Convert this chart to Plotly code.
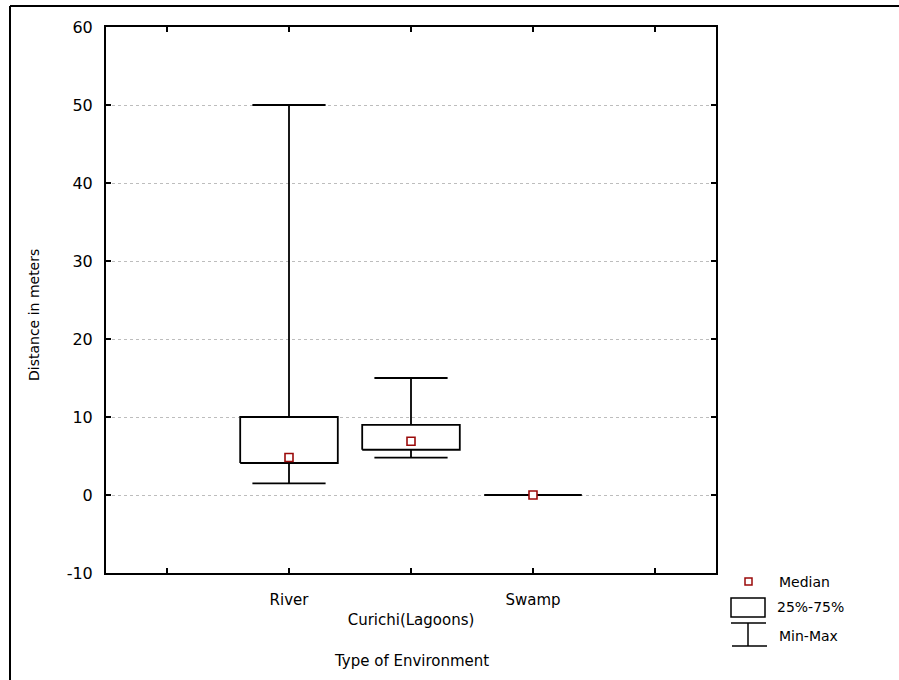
import plotly.graph_objects as go

# ---- data ----
categories = ["", "River", "Curichi(Lagoons)", "Swamp", ""]
tick_labels = ["", "River", "<br>Curichi(Lagoons)", "Swamp", ""]
box_cats = ["River", "Curichi(Lagoons)", "Swamp"]
mins = [1.5, 4.8, 0.0]
q1s = [4.1, 5.8, 0.0]
medians = [4.8, 6.9, 0.0]
q3s = [10.0, 9.0, 0.0]
maxs = [50.0, 15.0, 0.0]
y_ticks = [-10, 0, 10, 20, 30, 40, 50, 60]
y_tick_labels = ["-10", "0", "10", "20", "30", "40", "50", "60"]

BOX_HALF = 0.4
CAP_HALF = 0.3
FONT = "DejaVu Sans"

fig = go.Figure()

xs, ys = [], []
for cat, mn, a, md, b, mx in zip(box_cats, mins, q1s, medians, q3s, maxs):
    c = categories.index(cat)
    xs += [c - BOX_HALF, c + BOX_HALF, c + BOX_HALF, c - BOX_HALF, c - BOX_HALF, None]
    ys += [a, a, b, b, a, None]
    if mx > b:
        xs += [c, c, None, c - CAP_HALF, c + CAP_HALF, None]
        ys += [b, mx, None, mx, mx, None]
    if mn < a:
        xs += [c, c, None, c - CAP_HALF, c + CAP_HALF, None]
        ys += [a, mn, None, mn, mn, None]

fig.add_trace(go.Scatter(x=xs, y=ys, mode="lines",
                         line=dict(color="black", width=1.8),
                         hoverinfo="skip", showlegend=False))

fig.add_trace(go.Scatter(x=[categories.index(c) for c in box_cats], y=medians,
                         mode="markers",
                         marker=dict(symbol="square", size=8, color="white",
                                     line=dict(color="#9b0a0a", width=1.6)),
                         showlegend=False))

PL, PR, PT, PB = 106, 716, 27, 573
W, H = 899, 680
def px(x):
    return (x - PL) / (PR - PL)
def py(y):
    return (PB - y) / (PB - PT)

shapes = [
    dict(type="line", xref="paper", yref="paper", x0=px(10), x1=px(905), y0=py(6), y1=py(6),
         line=dict(color="black", width=2)),
    dict(type="line", xref="paper", yref="paper", x0=px(10), x1=px(10), y0=py(6), y1=py(690),
         line=dict(color="black", width=2)),
    dict(type="rect", xref="paper", yref="paper", x0=px(745), x1=px(752), y0=py(585), y1=py(578),
         line=dict(color="#9b0a0a", width=1.5), fillcolor="white"),
    dict(type="rect", xref="paper", yref="paper", x0=px(731), x1=px(765), y0=py(617), y1=py(598),
         line=dict(color="black", width=1.5), fillcolor="white"),
    dict(type="line", xref="paper", yref="paper", x0=px(731), x1=px(766), y0=py(623), y1=py(623),
         line=dict(color="black", width=1.5)),
    dict(type="line", xref="paper", yref="paper", x0=px(748), x1=px(748), y0=py(623), y1=py(646),
         line=dict(color="black", width=1.5)),
    dict(type="line", xref="paper", yref="paper", x0=px(732), x1=px(767), y0=py(646), y1=py(646),
         line=dict(color="black", width=1.5)),
]

annotations = [
    dict(text="Median", xref="paper", yref="paper", x=px(777), y=py(582),
         xanchor="left", yanchor="middle", showarrow=False, font=dict(size=14)),
    dict(text="25%-75%", xref="paper", yref="paper", x=px(775), y=py(607),
         xanchor="left", yanchor="middle", showarrow=False, font=dict(size=14)),
    dict(text="Min-Max", xref="paper", yref="paper", x=px(777), y=py(636),
         xanchor="left", yanchor="middle", showarrow=False, font=dict(size=14)),
    dict(text="Type of Environment", xref="paper", yref="paper", x=px(411), y=py(661),
         xanchor="center", yanchor="middle", showarrow=False, font=dict(size=15)),
    dict(text="Distance in meters", xref="paper", yref="paper", x=px(34), y=py(315),
         xanchor="center", yanchor="middle", textangle=-90, showarrow=False,
         font=dict(size=14)),
]

fig.update_layout(
    width=W, height=H,
    margin=dict(l=PL, r=W - PR, t=PT, b=H - PB),
    paper_bgcolor="white", plot_bgcolor="white",
    font=dict(family=FONT, color="black", size=15),
    shapes=shapes, annotations=annotations,
    showlegend=False,
)
fig.update_xaxes(range=[-0.5, 4.5], tickmode="array",
                 tickvals=list(range(len(categories))), ticktext=tick_labels,
                 showline=True, linecolor="black", linewidth=2, mirror="ticks",
                 ticks="inside", ticklen=5, tickcolor="black", tickwidth=1.5,
                 showgrid=False, zeroline=False, tickfont=dict(size=15),
                 ticklabelstandoff=12)
fig.update_yaxes(range=[-10, 60], tickmode="array", tickvals=y_ticks,
                 ticktext=y_tick_labels,
                 showline=True, linecolor="black", linewidth=2, mirror="ticks",
                 ticks="inside", ticklen=5, tickcolor="black", tickwidth=1.5,
                 showgrid=True, gridcolor="#bdbdbd", griddash="dot", gridwidth=1,
                 zeroline=False, tickfont=dict(size=16), ticklabelstandoff=8)

fig.write_html("out.html", config={"displayModeBar": False},
               post_script="document.body.style.margin='0';document.body.style.overflow='hidden';")
